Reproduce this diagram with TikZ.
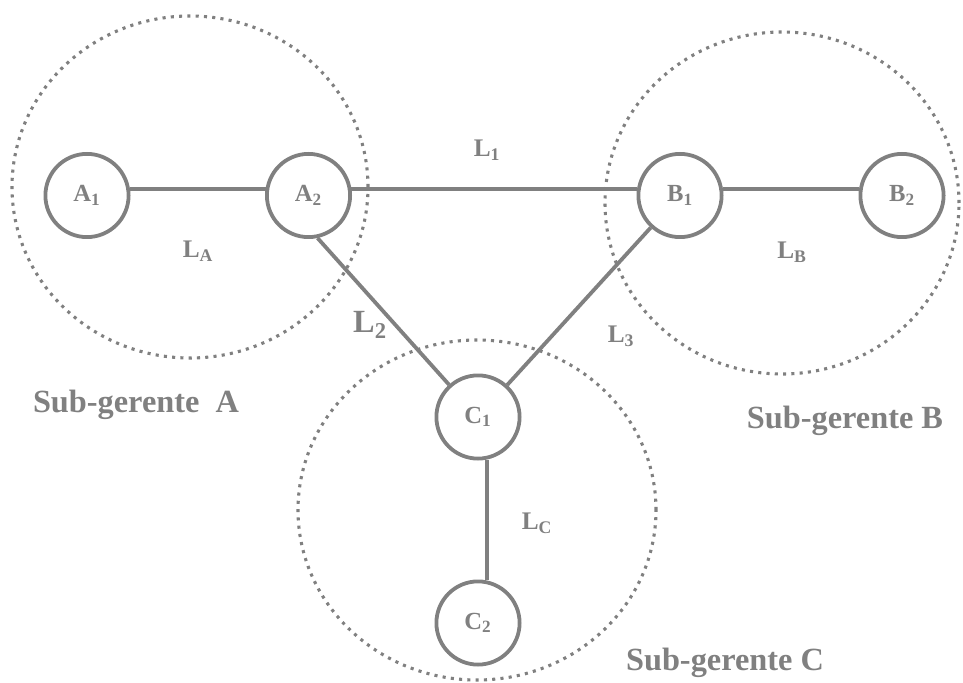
\documentclass[tikz,border=0pt]{standalone}
\usepackage{fontspec}
\setmainfont{Liberation Serif}
\definecolor{linegray}{RGB}{128,128,128}
\begin{document}
\begin{tikzpicture}[
  host/.style={circle, draw=linegray, line width=2.7pt, minimum size=2.08cm,
               inner sep=0pt, text=linegray,
               font=\fontsize{17.5}{20}\selectfont\bfseries},
  link/.style={draw=linegray, line width=2.7pt},
  zone/.style={draw=linegray, line width=2.2pt, dash pattern=on 2.2pt off 3.7pt},
  lbl/.style={text=linegray, inner sep=0pt,
              font=\fontsize{18}{21}\selectfont\bfseries},
  group/.style={text=linegray, inner sep=0pt,
                font=\fontsize{23}{27}\selectfont\bfseries},
]
\useasboundingbox (0,0) rectangle (24.075,17.05);

\draw[zone] (4.75,12.375)  ellipse [x radius=4.45,  y radius=4.275];
\draw[zone] (19.55,11.975) ellipse [x radius=4.425, y radius=4.275];
\draw[zone] (11.925,4.3)   ellipse [x radius=4.475, y radius=4.25];

\node[host] (a1) at (2.175,12.1625)  {A\textsubscript{1}};
\node[host] (a2) at (7.7125,12.1625) {A\textsubscript{2}};
\node[host] (b1) at (17.0,12.1625)   {B\textsubscript{1}};
\node[host] (b2) at (22.55,12.1625)  {B\textsubscript{2}};
\node[host] (c1) at (11.95,6.625)    {C\textsubscript{1}};
\node[host] (c2) at (11.95,1.475)    {C\textsubscript{2}};

\draw[link] (a1.9)   -- (a2.171);
\draw[link] (a2.9)   -- (b1.171);
\draw[link] (b1.9)   -- (b2.171);
\draw[link] (a2.-78) -- (c1);
\draw[link] (b1)     -- (c1);
\draw[link] (c1.-78) -- (c2.78);

\node[lbl] (l1) at (12.175,13.3)  {L\textsubscript{1}};
\node[lbl] (la) at (4.95,10.775)  {L\textsubscript{A}};
\node[lbl] (lb) at (19.8,10.75)   {L\textsubscript{B}};
\node[lbl, font=\fontsize{23}{27}\selectfont\bfseries] (l2) at (9.25,8.925) {L\textsubscript{2}};
\node[lbl] (l3) at (15.525,8.65)  {L\textsubscript{3}};
\node[lbl] (lc) at (13.425,3.975) {L\textsubscript{C}};

\node[group] (ga) at (3.4,6.925)    {Sub-gerente\ \ A};
\node[group] (gb) at (21.125,6.525) {Sub-gerente B};
\node[group] (gc) at (18.125,0.475) {Sub-gerente C};
\end{tikzpicture}
\end{document}
